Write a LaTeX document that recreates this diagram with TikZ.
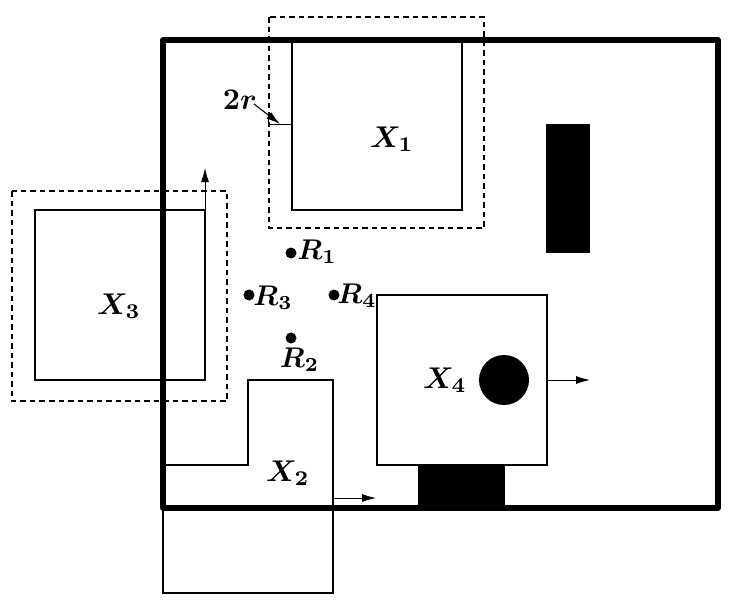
\documentclass[tikz,border=0pt]{standalone}
\usetikzlibrary{arrows.meta}
\newcommand{\biglab}[1]{\scalebox{3.0}{#1}}
\newcommand{\roblab}[1]{\scalebox{2.85}{#1}}
\begin{document}
\begin{tikzpicture}[x=1pt,y=-1pt,
  thin box/.style={line width=2pt,line join=miter},
  outer box/.style={line width=5.4pt,line join=round},
  dash box/.style={line width=1.4pt,dash pattern=on 5.5pt off 4pt},
  tip/.style={line width=0.9pt,-{Latex[length=14pt,width=8pt]}},
  lab/.style={inner sep=0pt},
  dot/.style={circle,fill=black,inner sep=0pt,minimum size=11pt}]
\useasboundingbox (0,0) rectangle (732,603);
% dashed offsets
\draw[dash box] (269,17) rectangle (484,228);
\draw[dash box] (12,191) rectangle (227,401);
% obstacles
\fill (546,124) rectangle (590,253);
\fill (418,465) rectangle (505,508);
\node[circle,fill=black,inner sep=0pt,minimum size=50pt] (disc) at (504,380) {};
% boxes
\draw[thin box] (292,40) -- (292,210) -- (462,210) -- (462,40);
\draw[thin box] (35,210) rectangle (205,380);
\draw[thin box] (377,295) rectangle (547,465);
\draw[thin box] (163,465) -- (248,465) -- (248,380) -- (333,380) -- (333,593) -- (163,593) -- (163,508);
\draw[outer box] (163,40) rectangle (718,508);
% motion arrows
\coordinate (a1s) at (547,380); \coordinate (a1e) at (590,380);
\coordinate (a2s) at (333,498); \coordinate (a2e) at (376,498);
\coordinate (a3s) at (205,210); \coordinate (a3e) at (205,168);
\draw[tip] (a1s) -- (a1e);
\draw[tip] (a2s) -- (a2e);
\draw[tip] (a3s) -- (a3e);
% 2r
\node[lab] (tworlabel) at (240,100) {\biglab{\boldmath$2r$}};
\coordinate (rt) at (280,124);
\coordinate (rl) at (268,124);
\coordinate (rr) at (292,124);
\coordinate (rs) at (254,104);
\draw[line width=1pt] (rl) -- (rr);
\draw[line width=1pt] (rl) -- ++(0,-5);
\draw[line width=1.1pt,-{Latex[length=14pt,width=8pt]}] (rs) -- (rt);
% labels
\node[lab] (x1) at (392,139) {\biglab{\boldmath$X_1$}};
\node[lab] (x2) at (288,473) {\biglab{\boldmath$X_2$}};
\node[lab] (x3) at (119,306) {\biglab{\boldmath$X_3$}};
\node[lab] (x4) at (445,380) {\biglab{\boldmath$X_4$}};
\node[dot] (r1) at (291,253) {};
\node[dot] (r2) at (291,338) {};
\node[dot] (r3) at (249,295) {};
\node[dot] (r4) at (334,295) {};
\node[lab] (l1) at (317,252) {\roblab{\boldmath$R_1$}};
\node[lab] (l2) at (299.5,360) {\roblab{\boldmath$R_2$}};
\node[lab] (l3) at (273,298) {\roblab{\boldmath$R_3$}};
\node[lab] (l4) at (357,296) {\roblab{\boldmath$R_4$}};
\end{tikzpicture}
\end{document}
